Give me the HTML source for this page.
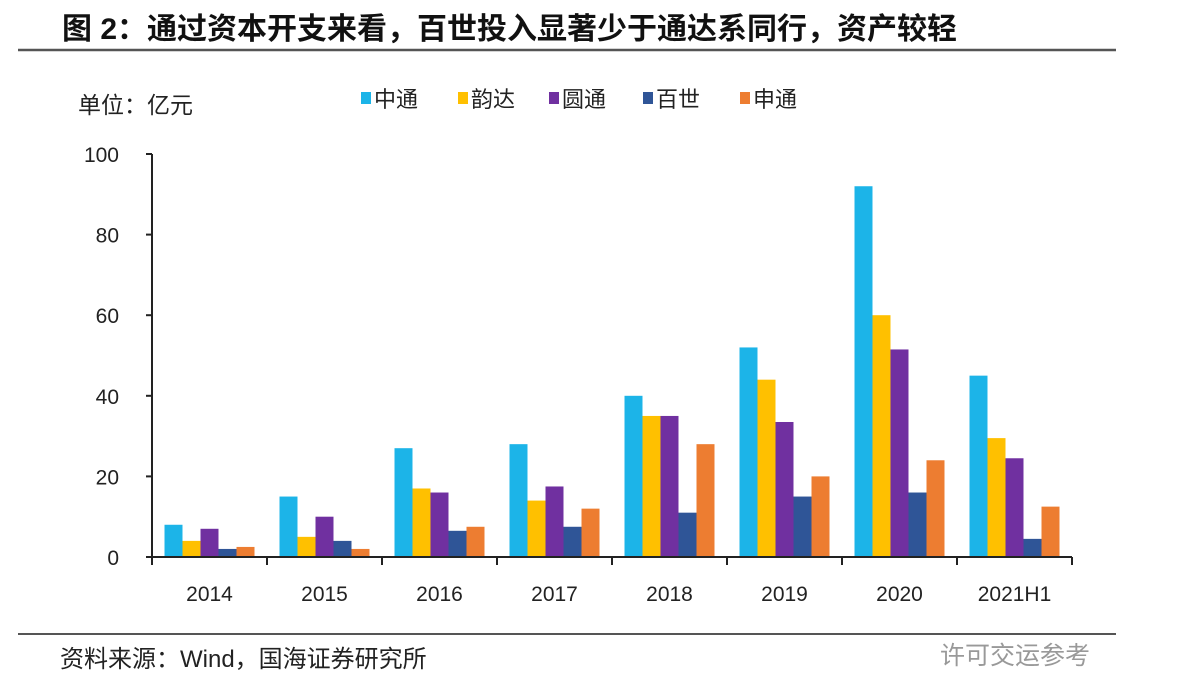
<!DOCTYPE html>
<html><head><meta charset="utf-8"><style>
body{margin:0;background:#fff;width:1202px;height:680px;overflow:hidden;font-family:"Liberation Sans","Noto Sans CJK SC",sans-serif;}
</style></head><body>
<svg width="1202" height="680" xmlns="http://www.w3.org/2000/svg" font-family="Liberation Sans, Noto Sans CJK SC, sans-serif">
<text x="62" y="39" font-size="30" font-weight="bold" fill="#111">图 2：通过资本开支来看，百世投入显著少于通达系同行，资产较轻</text>
<line x1="18" y1="50" x2="1116" y2="50" stroke="#555" stroke-width="2.5"/>
<text x="78" y="113" font-size="23" fill="#222">单位：亿元</text>
<g id="legend"></g>
<g id="plot"></g>
<line x1="18" y1="634" x2="1116" y2="634" stroke="#555" stroke-width="2"/>
<text x="60" y="667" font-size="24" fill="#222">资料来源：Wind，国海证券研究所</text>
<text x="940" y="664" font-size="25" fill="#999">许可交运参考</text>
</svg>
<script>
const categories=["2014","2015","2016","2017","2018","2019","2020","2021H1"];
const seriesNames=["中通","韵达","圆通","百世","申通"];
const zto=[8,15,27,28,40,52,92,45];
const yunda=[4,5,17,14,35,44,60,29.5];
const yto=[7,10,16,17.5,35,33.5,51.5,24.5];
const best=[2,4,6.5,7.5,11,15,16,4.5];
const sto=[2.5,2,7.5,12,28,20,24,12.5];
const yTicks=[0,20,40,60,80,100];
const colors=["#1CB4E8","#FFC000","#7030A0","#2F5597","#ED7D31"];
const series=[zto,yunda,yto,best,sto];
const NS="http://www.w3.org/2000/svg";
const x0=152,x1=1072,y0=557,y100=154;
const yScale=v=>y0-(v/100)*(y0-y100);
const gw=(x1-x0)/categories.length, bw=18, pad=(gw-bw*5)/2;
const plot=document.getElementById('plot');
function mk(t,a,p){const e=document.createElementNS(NS,t);for(const k in a)e.setAttribute(k,a[k]);(p||plot).appendChild(e);return e;}
series.forEach((s,si)=>s.forEach((v,ci)=>{
 const r=mk('rect',{x:x0+ci*gw+pad+si*bw,y:yScale(v),width:bw,height:y0-yScale(v),fill:colors[si]});
 
 
}));
const ya=mk('line',{x1:x0,y1:y100,x2:x0,y2:y0,stroke:'#222','stroke-width':2});


yTicks.forEach(t=>{
 const tk=mk('line',{x1:x0-6,y1:yScale(t),x2:x0,y2:yScale(t),stroke:'#222','stroke-width':2});
 
 
 const l=mk('text',{x:119,y:yScale(t)+8,'text-anchor':'end','font-size':21,fill:'#222'});
 l.textContent=t;
 
 
});
const xa=mk('line',{x1:x0,y1:y0,x2:x1,y2:y0,stroke:'#222','stroke-width':2});


for(let i=0;i<=categories.length;i++){
 const tk=mk('line',{x1:x0+i*gw,y1:y0,x2:x0+i*gw,y2:y0+8,stroke:'#222','stroke-width':2});
 
 
}
categories.forEach((c,i)=>{
 const l=mk('text',{x:x0+i*gw+gw/2,y:601,'text-anchor':'middle','font-size':21,fill:'#222'});
 l.textContent=c;
 
 
});
const lg=document.getElementById('legend');
const lx=[361,458,549,643,740];
seriesNames.forEach((n,i)=>{
 const g=mk('g',{},lg);
 
 
 mk('rect',{x:lx[i],y:92,width:10,height:12,fill:colors[i]},g);
 const t=mk('text',{x:lx[i]+13,y:107,'font-size':22,fill:'#222'},g);
 t.textContent=n;
});
</script>
</body></html>
